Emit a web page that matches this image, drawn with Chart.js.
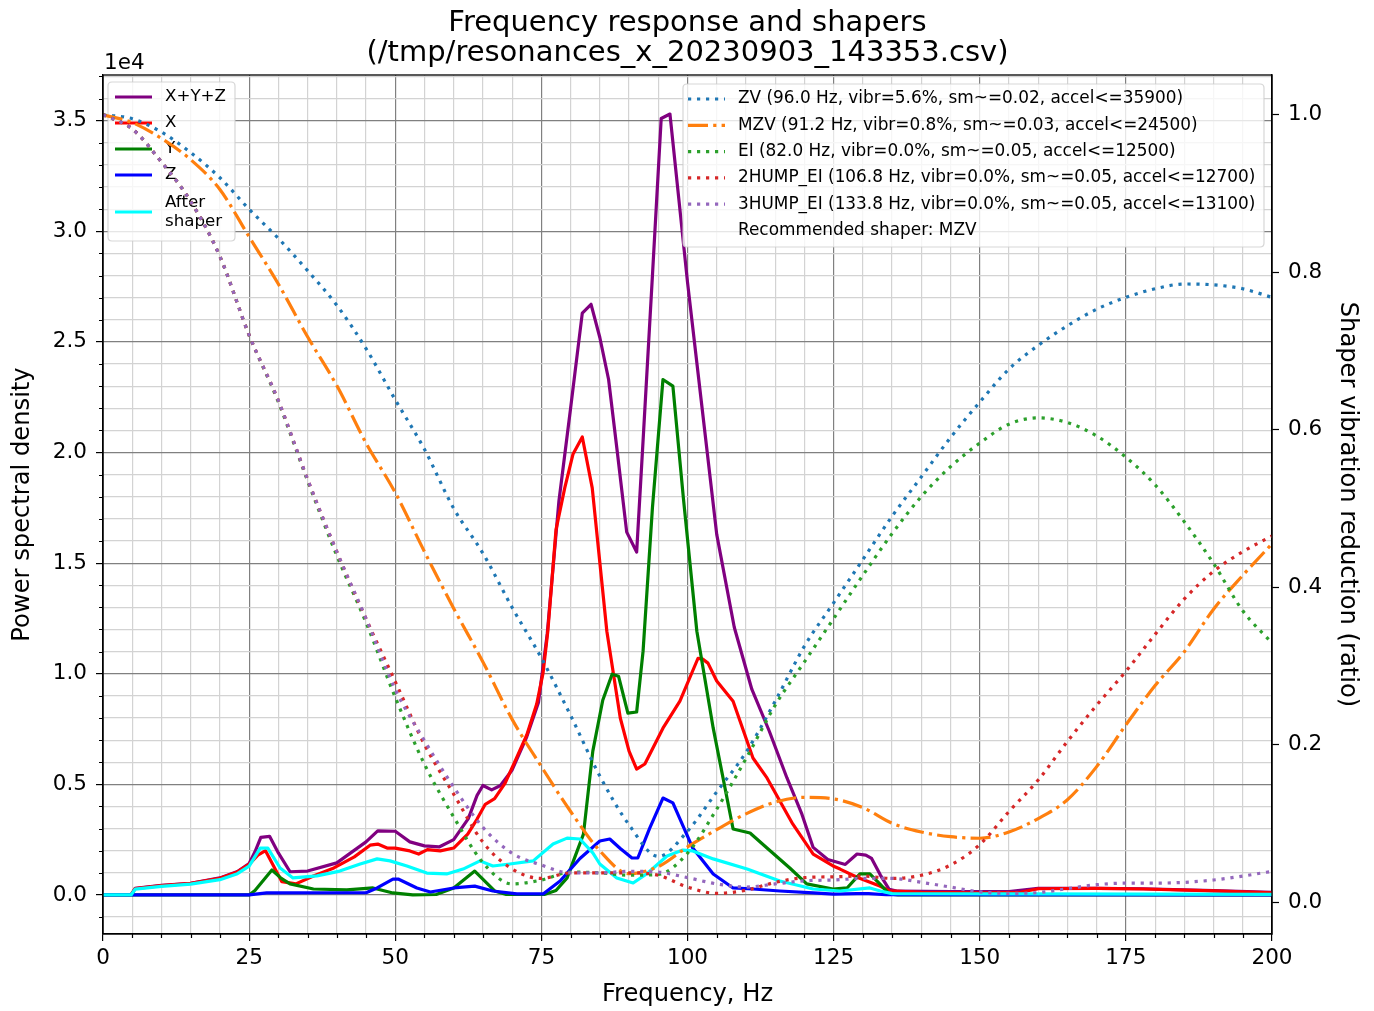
<!DOCTYPE html>
<html><head><meta charset="utf-8">
<script src="https://cdn.jsdelivr.net/npm/chart.js@4.4.0/dist/chart.umd.min.js"></script>
<style>html,body{margin:0;padding:0;background:#fff;}#wrap{width:1374px;height:1011px;position:relative;}</style>
</head><body><div id="wrap"><canvas id="c"></canvas></div>
<script>
// ---------------- DATA ----------------
const titleLines = ['Frequency response and shapers', '(/tmp/resonances_x_20230903_143353.csv)'];
const xTitle = 'Frequency, Hz';
const yTitle = 'Power spectral density';
const y2Title = 'Shaper vibration reduction (ratio)';
const yExponent = '1e4';
const xTicks = [0, 25, 50, 75, 100, 125, 150, 175, 200];

const psdLabels = ['X+Y+Z', 'X', 'Y', 'Z', 'After\nshaper'];

const xyzFreq = [0,4.8,5.5,10,15,20,23,25,26,27,28.5,30,32,35,40,45,47,50,52.5,55,57.5,60,62.5,64,65,66.5,68,70,72.5,74.5,76,78,80,82,83.5,85,86.5,88,89.6,91.3,92.5,94,95.5,97,98.5,100,102.5,105,108,111,114,117,119.5,121.5,124,127,129,130.5,131.5,133,134.5,136,145,155,160,170,178,190,200];
const xyzPsd  = [0,0,300,430,530,770,1060,1420,1950,2600,2650,1900,1050,1080,1450,2400,2900,2880,2400,2220,2170,2500,3450,4500,4950,4750,4950,5650,7150,8700,11800,17800,22000,26300,26700,25200,23300,20000,16400,15500,21000,28000,35100,35300,31500,27700,22000,16300,12100,9300,7400,5300,3700,2150,1600,1380,1850,1800,1650,900,250,170,150,150,300,300,280,200,120];

const xFreq = [0,4.8,5.5,10,15,20,23,25,26.5,27.8,29,30.6,33,36,39.5,43,45.7,47,48.6,50,52.5,54,55.5,57.7,60,62.4,64,65.4,67,68.8,70.5,72.5,74.2,75.3,76.1,77.5,79,80.4,82,83.7,86.2,88.5,90,91.3,92.7,95.8,98.7,101.8,102.6,103.5,105,107.8,111.2,113.6,118,121.5,124.9,126.1,129,132.9,134.6,140,150,157,160,170,178,190,200];
const xPsd  = [0,0,290,420,520,750,1040,1380,1800,2000,1400,600,500,860,1220,1720,2250,2300,2120,2120,1990,1850,2050,1990,2120,2750,3430,4100,4350,5060,6050,7230,8630,10050,11920,16500,18400,19920,20700,18400,11920,8000,6500,5690,5920,7540,8760,10700,10660,10480,9670,8760,6190,5290,3210,1850,1310,1170,800,400,180,120,100,120,280,300,270,180,100];

const yFreq = [0,25,26,28.9,30.5,32,36,41.7,46.2,49.6,53,57,60,63.6,67,69,75.5,77.5,79.4,82.2,83.8,85.5,87.1,88.2,89.8,91.3,92.4,94,95.8,97.5,99.3,101.6,104.4,107.8,110.7,113.6,117.5,120.4,124.9,127.3,129.5,131.2,132.9,134.5,136,200];
const yPsd  = [0,0,200,1130,750,500,270,226,316,90,0,20,316,1080,180,20,20,200,770,2750,6500,8800,9980,9890,8220,8270,11020,17500,23300,23000,17930,11920,7540,2980,2800,2120,1220,500,270,316,950,950,500,50,0,0];

const zFreq = [0,25,28,45,46.9,49.6,50.5,53.7,56,60,63.6,66.7,70.8,75.3,78.2,81.6,85,86.7,88.5,90.5,91.5,93.5,95.8,97.5,100.9,104.4,107.8,111.2,115.8,121.5,125,129,131,134,200];
const zPsd  = [0,0,90,100,316,720,720,316,135,316,400,180,45,45,630,1650,2440,2530,2100,1670,1670,3000,4380,4160,2120,950,316,270,180,90,40,60,60,10,0];

const afterFreq = [0,4.8,5.5,10,15,20,23,25,26.9,28.2,30.3,32.5,36.6,40.5,44,46.9,49.1,52,55.4,58.8,61.6,64.5,66.7,69.6,73.6,77,79.4,81.6,83.8,85,87.9,90.7,93,96.5,99.2,100.9,104.4,110.2,115.8,121.5,126.1,131.2,133,135,200];
const afterPsd  = [0,0,260,390,490,690,960,1300,2120,2120,1220,770,860,1080,1400,1630,1540,1310,990,950,1170,1540,1310,1400,1540,2300,2570,2530,1900,1400,770,540,950,1760,2030,1990,1630,1170,630,270,180,316,180,60,30];

const shaperLabels = [
  'ZV (96.0 Hz, vibr=5.6%, sm~=0.02, accel<=35900)',
  'MZV (91.2 Hz, vibr=0.8%, sm~=0.03, accel<=24500)',
  'EI (82.0 Hz, vibr=0.0%, sm~=0.05, accel<=12500)',
  '2HUMP_EI (106.8 Hz, vibr=0.0%, sm~=0.05, accel<=12700)',
  '3HUMP_EI (133.8 Hz, vibr=0.0%, sm~=0.05, accel<=13100)'
];
const recommendedText = 'Recommended shaper: MZV';

const shaperFreq = [0,5,10,15,20,25,30,35,40,45,50,55,60,65,70,75,80,85,90,95,100,105,110,115,120,125,130,135,140,145,150,155,160,165,170,175,180,185,190,195,200];
const zvVals    = [1.0,0.995,0.978,0.952,0.92,0.88,0.843,0.802,0.758,0.703,0.638,0.575,0.5,0.443,0.374,0.31,0.237,0.16,0.098,0.058,0.09,0.14,0.19,0.255,0.325,0.38,0.435,0.49,0.54,0.59,0.635,0.677,0.707,0.732,0.753,0.768,0.779,0.785,0.784,0.779,0.768];
const mzvVals   = [1.0,0.99,0.97,0.943,0.905,0.845,0.785,0.718,0.656,0.583,0.52,0.445,0.373,0.305,0.232,0.172,0.115,0.065,0.036,0.045,0.07,0.092,0.112,0.127,0.133,0.131,0.12,0.1,0.089,0.083,0.081,0.089,0.106,0.13,0.172,0.225,0.275,0.318,0.372,0.415,0.455];
const eiVals    = [1.0,0.982,0.94,0.89,0.82,0.72,0.635,0.535,0.44,0.355,0.26,0.175,0.108,0.05,0.023,0.028,0.038,0.037,0.034,0.035,0.062,0.118,0.182,0.25,0.305,0.36,0.415,0.468,0.515,0.553,0.583,0.607,0.615,0.609,0.592,0.565,0.53,0.483,0.43,0.37,0.329];
const hump2Vals = [1.0,0.982,0.94,0.89,0.82,0.72,0.637,0.537,0.445,0.36,0.28,0.2,0.137,0.076,0.042,0.03,0.037,0.037,0.037,0.034,0.019,0.011,0.015,0.025,0.031,0.032,0.033,0.03,0.034,0.047,0.073,0.115,0.155,0.204,0.25,0.293,0.34,0.385,0.42,0.445,0.465];
const hump3Vals = [1.0,0.982,0.94,0.89,0.82,0.72,0.637,0.537,0.445,0.36,0.27,0.205,0.146,0.095,0.062,0.047,0.037,0.037,0.039,0.038,0.031,0.023,0.019,0.023,0.027,0.028,0.03,0.03,0.025,0.019,0.013,0.011,0.012,0.017,0.022,0.024,0.024,0.025,0.028,0.033,0.039];

// ---------------- STYLE ----------------
const FONT = '"DejaVu Sans", sans-serif';
const LW = 3.2;
const DOT = [3.2, 5.8];
const DASHDOT = [20, 5.2, 3.2, 5.2];
const psdColors = ['#800080', '#ff0000', '#008000', '#0000ff', '#00ffff'];
const shaperColors = ['#1f77b4', '#ff7f0e', '#2ca02c', '#d62728', '#9467bd'];
const shaperDashes = [DOT, DASHDOT, DOT, DOT, DOT];
const MAJOR_TICK = 7, MINOR_TICK = 4;

const pts = (fs, vs) => fs.map((f, i) => ({x: f, y: vs[i]}));
const psdSeries = [[xyzFreq, xyzPsd], [xFreq, xPsd], [yFreq, yPsd], [zFreq, zPsd], [afterFreq, afterPsd]];
const shaperSeries = [zvVals, mzvVals, eiVals, hump2Vals, hump3Vals];

const datasets = [];
psdSeries.forEach((s, i) => datasets.push({
  label: psdLabels[i], data: pts(s[0], s[1]), yAxisID: 'y',
  borderColor: psdColors[i], borderWidth: LW, pointRadius: 0, tension: 0,
  borderJoinStyle: 'round', order: 10 - i
}));
shaperSeries.forEach((vals, i) => datasets.push({
  label: shaperLabels[i], data: pts(shaperFreq, vals), yAxisID: 'y2',
  borderColor: shaperColors[i], borderWidth: LW, pointRadius: 0,
  cubicInterpolationMode: 'monotone', borderDash: shaperDashes[i], borderCapStyle: 'butt',
  order: 5 - i
}));

// ticks at every multiple of `step` inside the scale range
const makeTicks = (step) => (scale) => {
  const out = [];
  const start = Math.ceil(scale.min / step - 1e-9);
  const end = Math.floor(scale.max / step + 1e-9);
  for (let k = start; k <= end; k++) out.push({value: +(k * step).toFixed(10)});
  scale.ticks = out;
};
const isMult = (v, m) => Math.abs(v / m - Math.round(v / m)) < 1e-6;
const isMajorX = v => xTicks.includes(v);
const isMajorY = v => isMult(v, 5000);

function roundRect(ctx, x, y, w, h, r) {
  ctx.beginPath();
  ctx.moveTo(x + r, y); ctx.lineTo(x + w - r, y); ctx.quadraticCurveTo(x + w, y, x + w, y + r);
  ctx.lineTo(x + w, y + h - r); ctx.quadraticCurveTo(x + w, y + h, x + w - r, y + h);
  ctx.lineTo(x + r, y + h); ctx.quadraticCurveTo(x, y + h, x, y + h - r);
  ctx.lineTo(x, y + r); ctx.quadraticCurveTo(x, y, x + r, y); ctx.closePath();
}

function drawLegend(ctx, box, items, font) {
  ctx.save();
  roundRect(ctx, box.x, box.y, box.w, box.h, 4);
  ctx.fillStyle = 'rgba(255,255,255,0.8)'; ctx.fill();
  ctx.strokeStyle = 'rgba(204,204,204,0.8)'; ctx.lineWidth = 1.2; ctx.stroke();
  ctx.font = font; ctx.textBaseline = 'middle'; ctx.textAlign = 'left';
  items.forEach(it => {
    if (it.color) {
      ctx.beginPath(); ctx.setLineDash(it.dash || []); ctx.lineCap = 'butt';
      ctx.strokeStyle = it.color; ctx.lineWidth = LW;
      ctx.moveTo(box.sx0, it.y); ctx.lineTo(box.sx1, it.y); ctx.stroke();
      ctx.setLineDash([]);
    }
    ctx.fillStyle = '#000';
    const lines = it.text.split('\n');
    lines.forEach((ln, k) => ctx.fillText(ln, box.tx, it.y + (k - (lines.length - 1) / 2) * box.lh));
  });
  ctx.restore();
}

const decor = {
  id: 'decor',
  afterDatasetDraw(chart, args) {
    if (args.index === 4) {
      const ys = [97, 123, 149, 175, 212];
      drawLegend(chart.ctx, {x: 108, y: 82, w: 127, h: 159, sx0: 115, sx1: 152, tx: 165, lh: 18.5},
        psdLabels.map((t, i) => ({text: t, color: psdColors[i], y: ys[i]})), `16.7px ${FONT}`);
    }
  },
  afterDatasetsDraw(chart) {
    const {ctx, chartArea: a, scales} = chart;
    ctx.save();
    ctx.strokeStyle = '#000'; ctx.lineWidth = 1.3;
    ctx.strokeRect(a.left, a.top, a.right - a.left, a.bottom - a.top);
    // short minor tick marks
    ctx.lineWidth = 1.2;
    ctx.beginPath();
    scales.x.ticks.forEach(t => {
      if (isMajorX(t.value)) return;
      const px = Math.round(scales.x.getPixelForValue(t.value)) + 0.5;
      ctx.moveTo(px, a.bottom); ctx.lineTo(px, a.bottom + MINOR_TICK);
    });
    scales.y.ticks.forEach(t => {
      if (isMajorY(t.value)) return;
      const py = Math.round(scales.y.getPixelForValue(t.value)) + 0.5;
      ctx.moveTo(a.left, py); ctx.lineTo(a.left - MINOR_TICK, py);
    });
    ctx.stroke();
    ctx.restore();
    const ys = [99, 125.3, 151.6, 177.9, 204.2, 230.5];
    const items = shaperLabels.map((t, i) => ({text: t, color: shaperColors[i], dash: shaperDashes[i], y: ys[i]}));
    items.push({text: recommendedText, y: ys[5]});
    drawLegend(ctx, {x: 683, y: 84, w: 581, h: 163, sx0: 688, sx1: 725, tx: 738, lh: 18}, items, `16.9px ${FONT}`);
  },
  afterDraw(chart) {
    const {ctx} = chart;
    ctx.save();
    ctx.fillStyle = '#000';
    ctx.font = `29px ${FONT}`; ctx.textAlign = 'center'; ctx.textBaseline = 'alphabetic';
    ctx.fillText(titleLines[0], 687.5, 31);
    ctx.fillText(titleLines[1], 687.5, 61);
    ctx.font = `21.5px ${FONT}`; ctx.textAlign = 'left';
    ctx.fillText(yExponent, 104, 69);
    ctx.restore();
  }
};

Chart.defaults.font.family = FONT;
Chart.defaults.color = '#000';

const majorGrid = '#808080', minorGrid = '#d3d3d3';
new Chart(document.getElementById('c'), {
  type: 'line',
  data: {datasets},
  plugins: [decor],
  options: {
    responsive: true, maintainAspectRatio: false, animation: false, devicePixelRatio: 1,
    layout: {padding: {top: 75, left: 0, right: 0, bottom: 0}},
    plugins: {legend: {display: false}, title: {display: false}, tooltip: {enabled: false}},
    scales: {
      x: {
        type: 'linear', min: 0, max: 200,
        afterFit: s => { s.height = 77; },
        afterBuildTicks: makeTicks(5),
        ticks: {autoSkip: false, maxRotation: 0, padding: 5, font: {size: 21.5},
          callback: v => (isMajorX(v) ? String(v) : '')},
        grid: {color: c => (c.tick && isMajorX(c.tick.value) ? majorGrid : minorGrid), lineWidth: 1.2,
          tickColor: c => (c.tick && isMajorX(c.tick.value) ? '#000' : 'rgba(0,0,0,0)'),
          tickLength: MAJOR_TICK, tickWidth: 1.2},
        border: {display: true, color: '#000', width: 1.3},
        title: {display: true, text: xTitle, font: {size: 24.2}, padding: {top: 0, bottom: 2}}
      },
      y: {
        type: 'linear', position: 'left', min: -1765, max: 37065,
        afterFit: s => { s.width = 103; },
        afterBuildTicks: makeTicks(1000),
        ticks: {autoSkip: false, padding: 9, font: {size: 21.5},
          callback: v => (isMajorY(v) ? (v / 1e4).toFixed(1) : '')},
        grid: {color: c => (c.tick && isMajorY(c.tick.value) ? majorGrid : minorGrid), lineWidth: 1.2,
          tickColor: c => (c.tick && isMajorY(c.tick.value) ? '#000' : 'rgba(0,0,0,0)'),
          tickLength: MAJOR_TICK, tickWidth: 1.2},
        border: {display: true, color: '#000', width: 1.3},
        title: {display: true, text: yTitle, font: {size: 24.2}, padding: {top: 8, bottom: 0}}
      },
      y2: {
        type: 'linear', position: 'right', min: -0.0406, max: 1.0505,
        afterFit: s => { s.width = 102; },
        afterBuildTicks: makeTicks(0.2),
        ticks: {autoSkip: false, padding: 9, font: {size: 21.5},
          callback: v => v.toFixed(1)},
        grid: {drawOnChartArea: false, tickColor: '#000', tickLength: MAJOR_TICK, tickWidth: 1.2},
        border: {display: true, color: '#000', width: 1.3},
        title: {display: true, text: y2Title, font: {size: 24.2}, padding: {top: 12, bottom: 0}}
      }
    }
  }
});
</script></body></html>
